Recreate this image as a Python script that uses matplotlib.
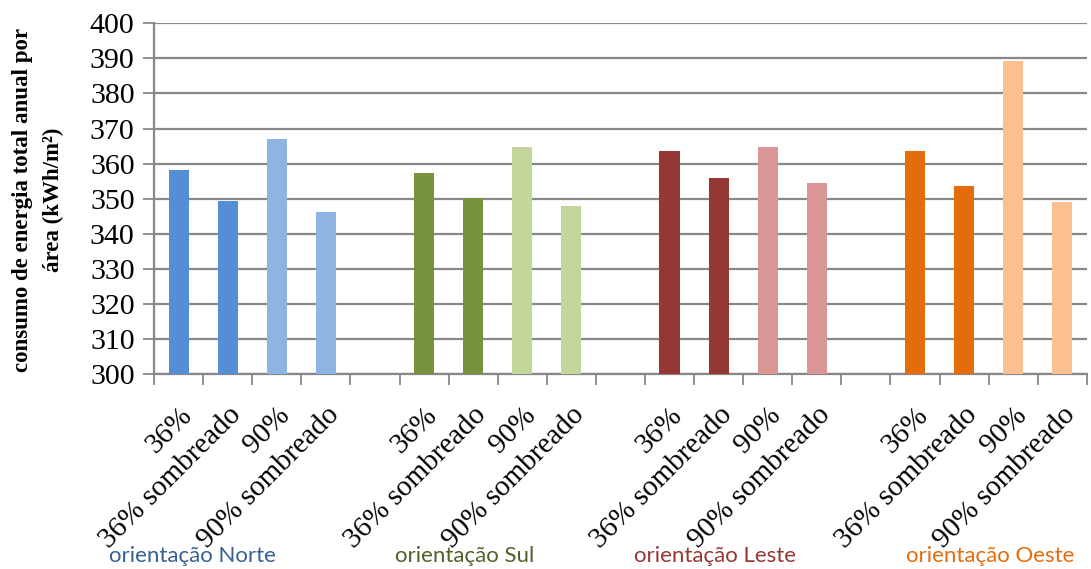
import numpy as np
import matplotlib.pyplot as plt
from matplotlib.ticker import FixedLocator

# Annual energy use per area for each orientation / glazing case
cases = ["36%", "36% sombreado", "90%", "90% sombreado"]
groups = ["orientação Norte", "orientação Sul", "orientação Leste", "orientação Oeste"]
norte = [358.2, 349.4, 367.0, 346.2]
sul = [357.4, 350.1, 364.8, 348.0]
leste = [363.6, 356.0, 364.8, 354.5]
oeste = [363.6, 353.7, 389.2, 349.1]

dark = ["#558ED5", "#77933C", "#953735", "#E46C0A"]
light = ["#8EB4E3", "#C3D69B", "#D99694", "#FAC090"]
group_colors = ["#376092", "#4F6228", "#953735", "#E46C0A"]

plt.rcParams['font.family'] = ['Liberation Serif', 'DejaVu Serif']

fig = plt.figure(figsize=(10.91, 5.69), dpi=100)
ax = fig.add_axes([0.1412, 0.3427, 0.855, 0.6163])

grid_col = "#888888"
labels = []
pos = 0
for g, vals in enumerate([norte, sul, leste, oeste]):
    for i, v in enumerate(vals):
        c = dark[g] if i < 2 else light[g]
        ax.bar(pos, v - 300, bottom=300, width=0.41, color=c, zorder=3)
        labels.append(cases[i])
        pos += 1
    if g < 3:
        labels.append("")
        pos += 1

n = len(labels)
ax.set_xlim(-0.5, n - 0.5)
ax.set_ylim(300, 400)
ax.set_yticks(np.arange(300, 401, 10))
ax.yaxis.grid(True, color=grid_col, linewidth=1.6, zorder=0)
ax.tick_params(axis='y', labelsize=21.5, color=grid_col, length=8, width=1.3, pad=6)

ax.set_xticks(np.arange(n))
ax.set_xticklabels(labels, rotation=45, ha='right', rotation_mode='anchor', fontsize=21)
ax.tick_params(axis='x', which='major', length=0, pad=20)
ax.xaxis.set_minor_locator(FixedLocator(np.arange(-0.5, n, 1.0)))
ax.tick_params(axis='x', which='minor', length=8, width=1.3, color=grid_col)

for s in ['top', 'right']:
    ax.spines[s].set_visible(False)
for s in ['left', 'bottom']:
    ax.spines[s].set_color(grid_col)
    ax.spines[s].set_linewidth(1.6)

fig.text(0.021, 0.648, "consumo de energia total anual por", rotation=90,
         fontsize=16.5, fontweight='bold', ha='center', va='center')
fig.text(0.049, 0.648, "área (kWh/m²)", rotation=90,
         fontsize=16.5, fontweight='bold', ha='center', va='center')

group_x = [192, 465, 715, 990]
for gx, name, c in zip(group_x, groups, group_colors):
    fig.text(gx / 1091, 1 - 556 / 569, name, color=c, fontsize=16,
             family=['Lato', 'DejaVu Sans'], ha='center', va='center')

fig.savefig("out.png", dpi=100)
